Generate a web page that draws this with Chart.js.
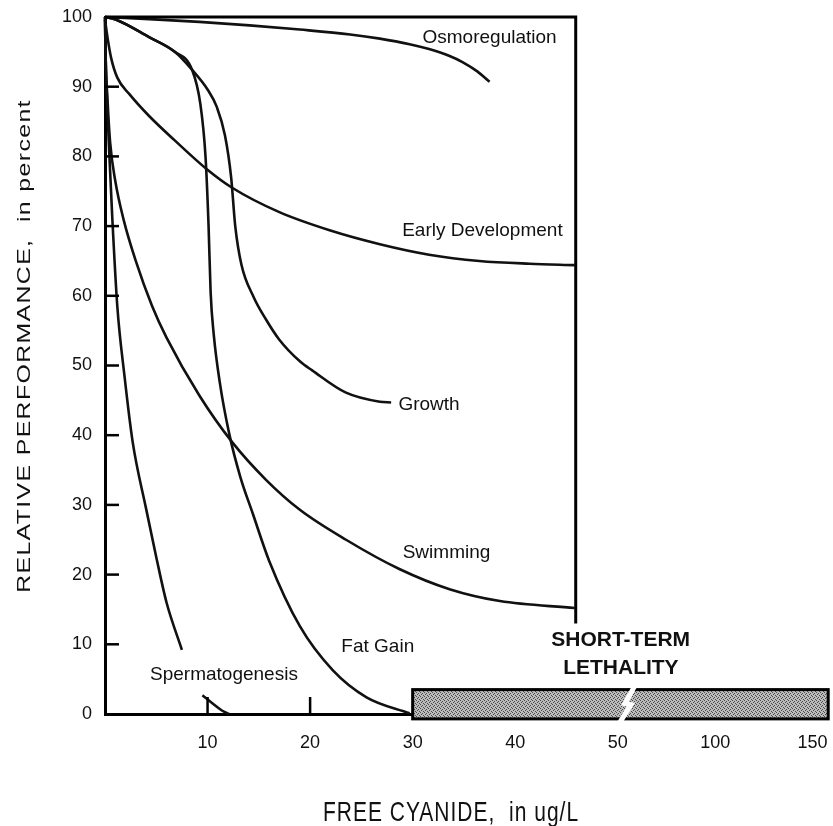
<!DOCTYPE html>
<html>
<head>
<meta charset="utf-8">
<script src="https://cdn.jsdelivr.net/npm/chart.js@4/dist/chart.umd.min.js"></script>
<style>
  body { margin: 0; background: #ffffff; }
  #wrap { width: 833px; height: 826px; }
</style>
</head>
<body>
<div id="wrap"><canvas id="chart" width="833" height="826"></canvas></div>
<script>
// x axis ticks (ug/L), axis is broken after 50
const xTickValues = [10, 20, 30, 40, 50, 100, 150];
const xTickLabels = ['10', '20', '30', '40', '50', '100', '150'];
const yInnerTicks = [10, 20, 30, 40, 50, 60, 70, 80, 90];
const xInnerTicks = [10, 20];

// curves (x in ug/L, y in percent)
const osmoX = [0, 4.3, 9.2, 14.1, 19.0, 23.9, 26.8, 29.7, 31.6, 33.6, 34.9, 36.3, 37.5];
const osmoY = [100, 99.7, 99.3, 98.8, 98.2, 97.5, 96.9, 96.1, 95.4, 94.4, 93.5, 92.2, 90.7];

const earlyX = [0, 0.25, 0.6, 1.2, 2.4, 4.3, 6.8, 9.9, 12.4, 17.0, 21.9, 26.8, 31.6, 36.5, 41.4, 45.8];
const earlyY = [99.6, 97.0, 94.1, 91.3, 88.9, 85.8, 82.3, 78.2, 75.5, 72.0, 69.4, 67.4, 65.9, 65.0, 64.6, 64.4];

const growthX = [0, 1.1, 4.3, 6.8, 8.5, 10.0, 10.9, 11.7, 12.3, 12.7, 13.3, 14.5, 15.7, 17.0, 19.0, 20.2, 23.5, 26.8, 27.9];
const growthY = [100, 99.6, 97.1, 95.0, 92.4, 89.6, 87.1, 83.0, 77.0, 70.0, 64.5, 59.8, 56.6, 53.7, 50.6, 49.3, 46.1, 44.8, 44.7];

const fatX = [0, 1.1, 4.3, 6.8, 8.5, 9.3, 9.8, 10.1, 10.3, 10.6, 11.2, 12.1, 13.2, 14.4, 16.0, 19.0, 22.2, 25.5, 29.7];
const fatY = [100, 99.6, 97.1, 95.0, 92.4, 87.5, 80.0, 70.0, 60.5, 54.5, 47.5, 40.3, 34.0, 28.8, 22.0, 12.6, 6.3, 2.4, 0.1];

const swimX = [0, 0.05, 0.25, 0.5, 1.0, 1.8, 3.0, 4.6, 6.0, 9.2, 12.4, 15.7, 19.0, 23.5, 28.7, 33.6, 38.5, 45.8];
const swimY = [100, 95.0, 88.0, 82.0, 76.5, 71.0, 65.0, 58.5, 54.0, 45.7, 39.0, 33.6, 29.3, 25.0, 20.8, 17.9, 16.2, 15.2];

const spermX = [0, 0.05, 0.2, 0.4, 0.7, 1.2, 1.9, 2.7, 4.0, 5.0, 6.0, 7.5, 8.5, 9.5, 10.5, 11.4, 12.1];
const spermY = [100, 95.0, 88.0, 81.0, 71.5, 58.5, 48.5, 39.0, 29.5, 22.5, 16.0, 9.2, null, 2.7, 1.5, 0.5, 0];

// short-term lethality band (ug/L) and its axis break
const lethalX = [30, 158];
const lethalY = [-0.7, 3.5];
const breakAt = 54.7;
const boxRight = 45.9;
const boxBottom = 13;

// text on the plot
const noteText = ['Osmoregulation', 'Early Development', 'Growth', 'Swimming', 'Fat Gain', 'Spermatogenesis'];
const noteX = [37.5, 36.8, 31.6, 33.3, 26.6, 11.6];
const noteY = [97.0, 69.4, 44.3, 23.2, 9.6, 5.6];
const lethalText = ['SHORT-TERM', 'LETHALITY'];
const lethalTextX = [51.5, 51.6];
const lethalTextY = [10.6, 6.6];

const FONT = "'Liberation Sans', Arial, Helvetica, sans-serif";

// broken axis: linear up to 50, compressed after
function toAxis(v) {
    return v <= 50 ? v : 50 + (v - 50) * 0.19;
}

function points(xs, ys) {
    return xs.map((x, i) => ({ x: toAxis(x), y: ys[i] }));
}

function makeLine(label, xs, ys) {
    return {
        label: label,
        data: points(xs, ys),
        borderColor: '#111111',
        borderWidth: 2.6,
        pointRadius: 0,
        cubicInterpolationMode: 'monotone',
        fill: false,
        spanGaps: false,
        clip: false
    };
}

// stipple fill for the lethality bar
function stipple() {
    const c = document.createElement('canvas');
    c.width = 4;
    c.height = 4;
    const g = c.getContext('2d');
    g.fillStyle = '#bcbcbc';
    g.fillRect(0, 0, 4, 4);
    g.fillStyle = '#4a4a4a';
    [[0, 0], [2, 1], [1, 2], [3, 3]].forEach(([x, y]) => g.fillRect(x, y, 1, 1));
    return g.createPattern(c, 'repeat');
}

const decorations = {
    id: 'decorations',
    afterDatasetsDraw(chart) {
        const ctx = chart.ctx;
        const xs = chart.scales.x;
        const ys = chart.scales.y;
        ctx.save();
        ctx.strokeStyle = '#000';
        ctx.lineCap = 'butt';

        // box: top and right edges
        ctx.lineWidth = 3;
        ctx.beginPath();
        ctx.moveTo(xs.getPixelForValue(0), ys.getPixelForValue(100));
        ctx.lineTo(xs.getPixelForValue(toAxis(boxRight)), ys.getPixelForValue(100));
        ctx.lineTo(xs.getPixelForValue(toAxis(boxRight)), ys.getPixelForValue(boxBottom));
        ctx.stroke();

        // inward tick marks
        ctx.lineWidth = 2.5;
        yInnerTicks.forEach(v => {
            const py = ys.getPixelForValue(v);
            ctx.beginPath();
            ctx.moveTo(xs.left, py);
            ctx.lineTo(xs.left + 14, py);
            ctx.stroke();
        });
        xInnerTicks.forEach(v => {
            const px = xs.getPixelForValue(toAxis(v));
            ctx.beginPath();
            ctx.moveTo(px, ys.bottom);
            ctx.lineTo(px, ys.bottom - 17);
            ctx.stroke();
        });

        // lethality bar
        const x0 = xs.getPixelForValue(toAxis(lethalX[0]));
        const x1 = xs.getPixelForValue(toAxis(lethalX[1]));
        const y0 = ys.getPixelForValue(lethalY[1]);
        const y1 = ys.getPixelForValue(lethalY[0]);
        ctx.fillStyle = stipple();
        ctx.fillRect(x0, y0, x1 - x0, y1 - y0);
        ctx.lineWidth = 3;
        ctx.strokeRect(x0, y0, x1 - x0, y1 - y0);

        // axis break mark
        const bx = xs.getPixelForValue(toAxis(breakAt));
        ctx.strokeStyle = '#ffffff';
        ctx.lineWidth = 5;
        ctx.beginPath();
        ctx.moveTo(bx + 8, y0 - 4);
        ctx.lineTo(bx - 2, y0 + 14);
        ctx.lineTo(bx + 4, y0 + 15);
        ctx.lineTo(bx - 8, y1 + 5);
        ctx.stroke();

        // curve names
        ctx.fillStyle = '#111';
        ctx.textAlign = 'center';
        ctx.textBaseline = 'middle';
        ctx.font = '19px ' + FONT;
        noteText.forEach((t, i) => {
            ctx.fillText(t, xs.getPixelForValue(toAxis(noteX[i])), ys.getPixelForValue(noteY[i]));
        });
        ctx.font = 'bold 21px ' + FONT;
        lethalText.forEach((t, i) => {
            ctx.fillText(t, xs.getPixelForValue(toAxis(lethalTextX[i])), ys.getPixelForValue(lethalTextY[i]));
        });

        // axis titles (the scan is stretched, so stretch the text a little)
        ctx.save();
        ctx.translate(451, 813);
        ctx.scale(1, 1.3);
        ctx.letterSpacing = '1px';
        ctx.font = '21px ' + FONT;
        ctx.fillText('FREE CYANIDE,  in ug/L', 0, 0);
        ctx.restore();

        ctx.save();
        ctx.translate(25, 346);
        ctx.rotate(-Math.PI / 2);
        ctx.scale(1.38, 1);
        ctx.letterSpacing = '1px';
        ctx.font = '18px ' + FONT;
        ctx.fillText('RELATIVE PERFORMANCE,  in percent', 0, 0);
        ctx.restore();

        ctx.restore();
    }
};

const chart = new Chart(document.getElementById('chart'), {
    type: 'line',
    data: {
        datasets: [
            makeLine('Osmoregulation', osmoX, osmoY),
            makeLine('Early Development', earlyX, earlyY),
            makeLine('Growth', growthX, growthY),
            makeLine('Fat Gain', fatX, fatY),
            makeLine('Swimming', swimX, swimY),
            makeLine('Spermatogenesis', spermX, spermY)
        ]
    },
    options: {
        responsive: false,
        animation: false,
        events: [],
        layout: { padding: { top: 17, right: 5, left: 0, bottom: 0 } },
        plugins: {
            legend: { display: false },
            tooltip: { enabled: false }
        },
        scales: {
            x: {
                type: 'linear',
                min: 0,
                max: 70.5,
                afterFit(scale) {
                    scale.height = 112;
                    scale.paddingLeft = 0;
                    scale.paddingRight = 0;
                },
                afterBuildTicks(scale) {
                    scale.ticks = xTickValues.map(v => ({ value: toAxis(v) }));
                },
                grid: { display: false, drawTicks: false },
                border: { display: true, color: '#000', width: 3 },
                ticks: {
                    autoSkip: false,
                    maxRotation: 0,
                    padding: 18,
                    color: '#111',
                    font: { family: FONT, size: 18 },
                    callback: (value, index) => xTickLabels[index]
                }
            },
            y: {
                min: 0,
                max: 100,
                afterFit(scale) {
                    scale.width = 105;
                    scale.paddingTop = 0;
                    scale.paddingBottom = 0;
                },
                grid: { display: false, drawTicks: false },
                border: { display: true, color: '#000', width: 3 },
                ticks: {
                    stepSize: 10,
                    padding: 13,
                    color: '#111',
                    font: { family: FONT, size: 18 }
                }
            }
        }
    },
    plugins: [decorations]
});
</script>
</body>
</html>
